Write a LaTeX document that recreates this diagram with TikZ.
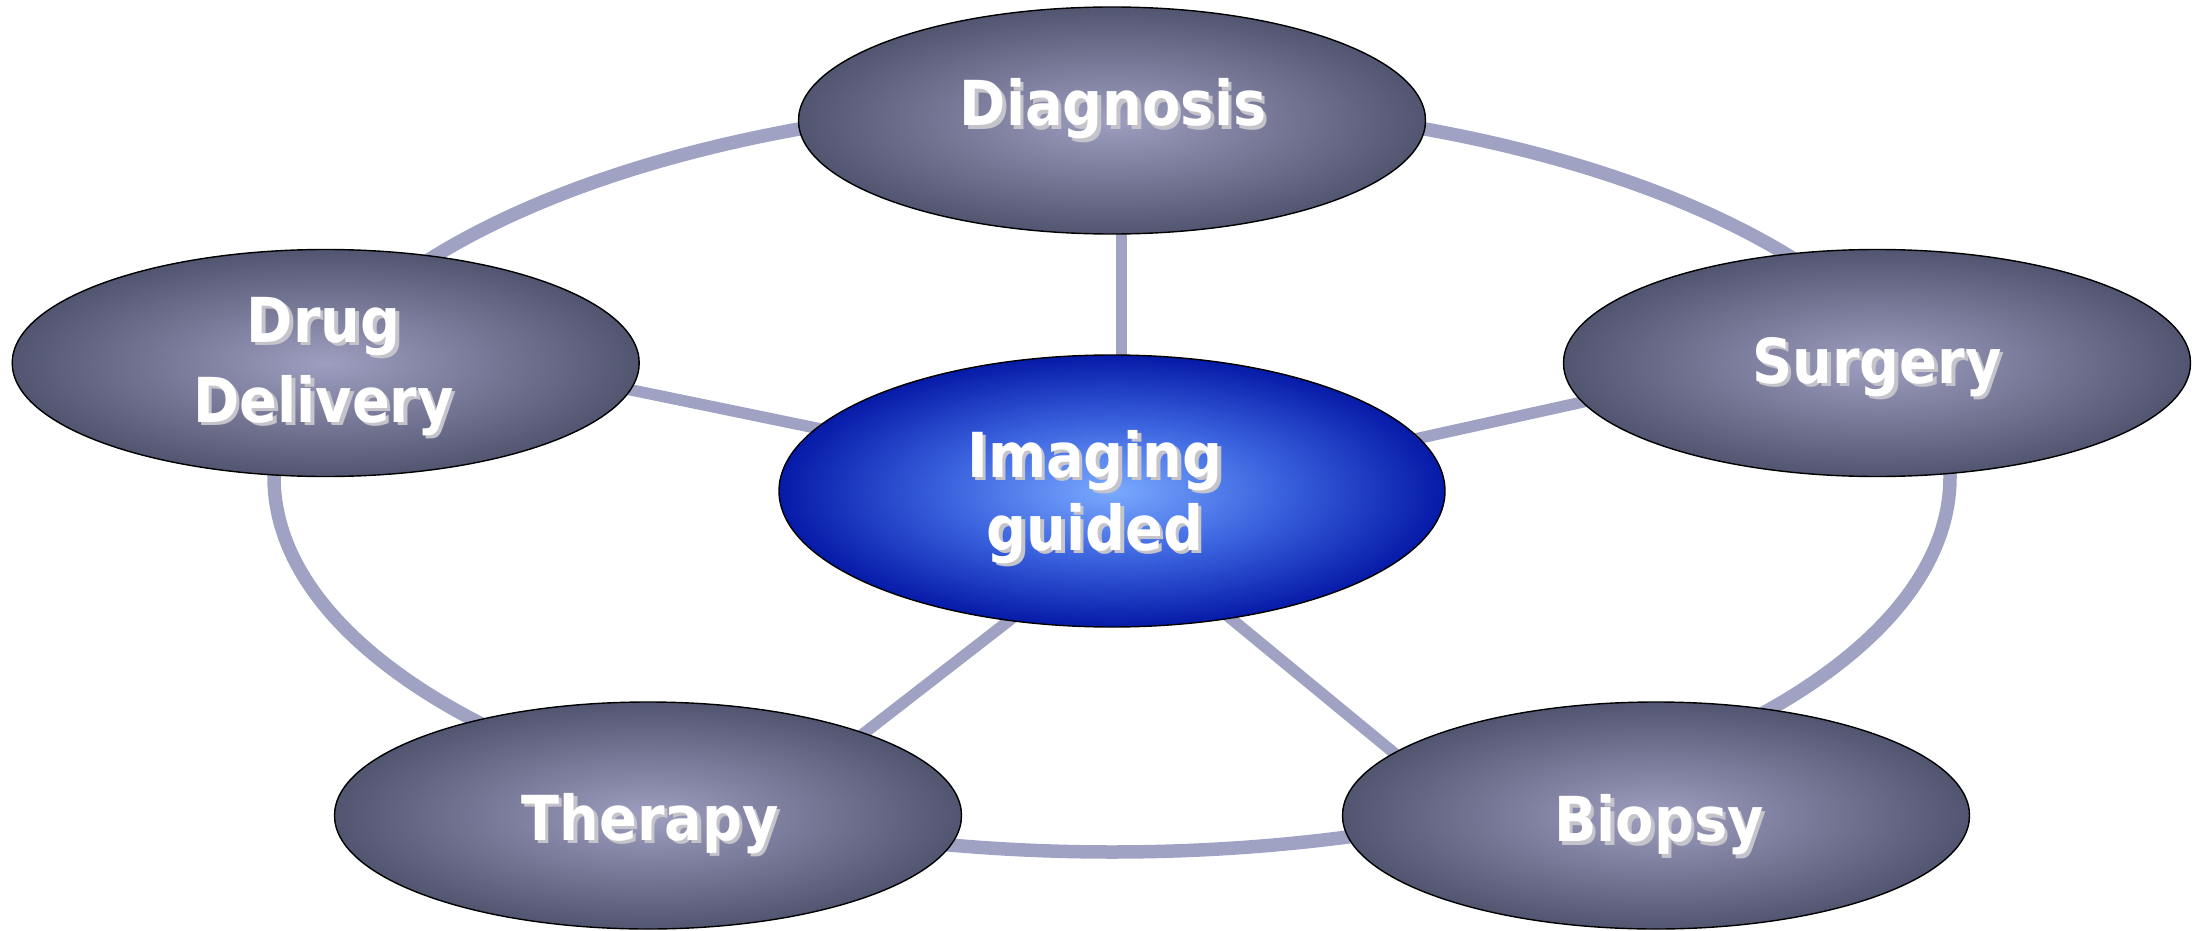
\documentclass[tikz,border=0pt]{standalone}
\usepackage{fontspec}
\usetikzlibrary{calc,shapes.geometric}
\newfontfamily\lbl{DejaVu Sans Condensed Bold}
\definecolor{ringc}{RGB}{160,162,196}
\definecolor{shc}{RGB}{196,196,202}
\definecolor{gIn}{RGB}{158,158,192}
\definecolor{gOut}{RGB}{82,85,112}
\definecolor{bIn}{RGB}{122,170,255}
\definecolor{bMid}{RGB}{58,98,222}
\definecolor{bOut}{RGB}{6,26,168}
\pgfdeclareradialshading{grayball}{\pgfpoint{0bp}{0bp}}{color(0bp)=(gIn); color(25bp)=(gOut); color(50bp)=(gOut)}
\pgfdeclareradialshading{blueball}{\pgfpoint{0bp}{0bp}}{color(0bp)=(bIn); color(12.5bp)=(bMid); color(25bp)=(bOut); color(50bp)=(bOut)}
\pgfdeclarelayer{bg}
\pgfsetlayers{bg,main}
\newcommand\sh[1]{\rlap{\kern3.5pt\raisebox{-3.5pt}{\textcolor{shc}{#1}}}#1}
\newcommand\tline[3]{\raisebox{-#2}[0pt][0pt]{\makebox[0pt]{\hspace*{#1}\sh{#3}}}}
\tikzset{
  outerell/.style={ellipse, draw=black, line width=1.4pt, shade, shading=grayball,
    minimum width=627pt, minimum height=227pt, inner sep=0pt, text=white,
    font=\lbl\fontsize{62}{70}\selectfont},
  innerell/.style={outerell, shading=blueball, minimum width=666pt, minimum height=272pt},
  ringline/.style={draw=ringc, line width=13.5pt},
  spoke/.style={draw=ringc, line width=11.5pt}
}
\begin{document}
\begin{tikzpicture}[x=1pt,y=-1pt]
\useasboundingbox (0,0) rectangle (2201,931);
\node[outerell] (dia) at (1112,120.5) {\tline{2pt}{5.5pt}{Diagnosis}};
\node[outerell] (drug) at (325.7,363) {\tline{-4pt}{-21pt}{Drug}\tline{-4pt}{59pt}{Delivery}};
\node[outerell] (sur) at (1877,363) {\tline{0pt}{20pt}{Surgery}};
\node[innerell] (img) at (1112,491) {\tline{-34pt}{-14pt}{Imaging}\tline{-34pt}{59pt}{guided}};
\node[outerell] (ther) at (648,815.5) {\tline{4pt}{24.5pt}{Therapy}};
\node[outerell] (bio) at (1656,815.5) {\tline{6pt}{26pt}{Biopsy}};
\begin{pgfonlayer}{bg}
  \draw[ringline] ($(img.center)+(0,-14)$) ellipse [x radius=838pt, y radius=375pt];
  \draw[spoke] ($(dia.center)+(9.5,0)$) -- ($(img.center)+(9.5,0)$);
  \draw[spoke] ($(drug.center)+(0,-36)$) -- ($(img.center)+(0,-2)$);
  \draw[spoke] ($(sur.center)+(0,-26)$) -- ($(img.center)+(0,15)$);
  \draw[spoke] ($(ther.center)+(110,0)$) -- ($(img.center)+(64,0)$);
  \draw[spoke] ($(bio.center)+(-186,0)$) -- ($(img.center)+(-36,0)$);
\end{pgfonlayer}
\end{tikzpicture}
\end{document}
